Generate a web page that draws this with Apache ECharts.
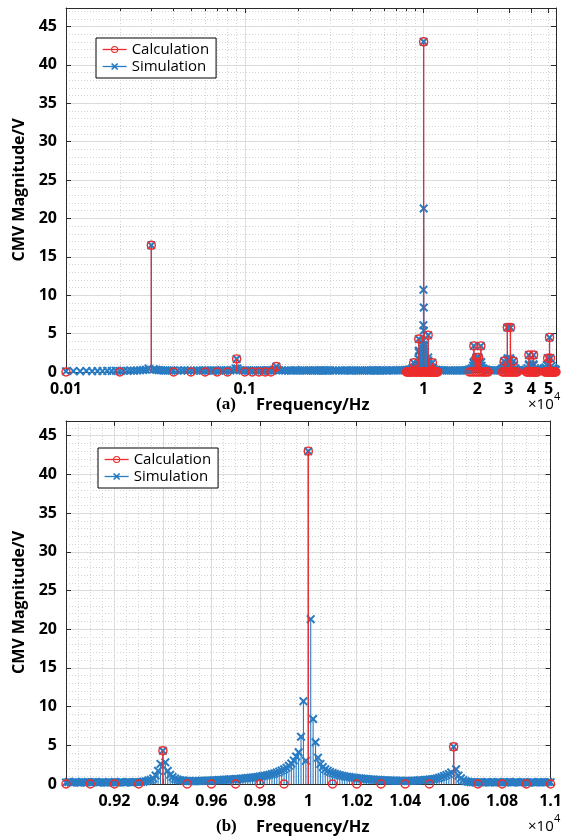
<!DOCTYPE html>
<html lang="en">
<head>
<meta charset="utf-8">
<title>CMV spectrum</title>
<script src="https://cdn.jsdelivr.net/npm/echarts@6/dist/echarts.min.js"></script>
<style>
  html, body { margin: 0; background: #fff; }
  #chart { width: 565px; height: 839px; }
</style>
</head>
<body>
<div id="chart"></div>
<script>
// frequencies are in units of 10^4 Hz, magnitudes in V

// calculation: 100 Hz grid at low frequency
const calcLowStart = 0.01;
const calcLow = [0, 0, 16.5, 0, 0, 0, 0, 0, 1.7, 0, 0, 0, 0, 0, 0.7];
// calculation: 100 Hz grid around the carrier (0.80 .. 1.20)
const calcBand1Start = 0.80;
const calcBand1 = [0, 0, 0, 0, 0, 0, 0, 0, 1.2, 0,
                   0, 0, 0, 0, 4.3, 0, 0, 0, 0, 0,
                   43.0, 0, 0, 0, 0, 0, 4.8, 0, 0, 0,
                   0, 0, 1.2, 0, 0, 0, 0, 0, 0, 0,
                   0];
// calculation: sidebands of the carrier multiples
const calcHigh = [
  [1.80, 0], [1.85, 0], [1.90, 0], [1.91, 3.4], [1.95, 0], [1.97, 1.9], [2.00, 0], [2.03, 1.9],
  [2.05, 0], [2.09, 3.4], [2.10, 0], [2.15, 0], [2.20, 0], [2.25, 0], [2.30, 0],
  [2.75, 0], [2.80, 0], [2.82, 1.4], [2.85, 0], [2.90, 0], [2.94, 5.8], [2.95, 0], [3.00, 0],
  [3.05, 0], [3.06, 5.8], [3.10, 0], [3.15, 0], [3.18, 1.4], [3.20, 0], [3.25, 0], [3.30, 0], [3.35, 0],
  [3.75, 0], [3.80, 0], [3.85, 0], [3.88, 2.2], [3.90, 0], [3.95, 0], [4.00, 0], [4.05, 0],
  [4.10, 0], [4.12, 2.2], [4.15, 0], [4.20, 0], [4.25, 0], [4.30, 0], [4.35, 0],
  [4.75, 0], [4.80, 0], [4.85, 0], [4.90, 0], [4.94, 1.8], [4.95, 0], [5.00, 0], [5.05, 0],
  [5.06, 4.5], [5.10, 0], [5.12, 1.8], [5.15, 0], [5.20, 0], [5.25, 0], [5.30, 0], [5.35, 0],
  [5.40, 0], [5.45, 0], [5.50, 0]
];

// simulation: 10 Hz bins from 0.010 to 0.030
const simLowStart = 0.010;
const simLow = [0.10, 0.12, 0.10, 0.14, 0.11, 0.13, 0.12, 0.15, 0.13, 0.16,
                0.14, 0.17, 0.15, 0.18, 0.17, 0.20, 0.22, 0.25, 0.30, 0.45,
                16.5];

// simulation: 10 Hz bins from 0.900 to 1.100 (zoomed in panel b)
const simBandStart = 0.900;
const simBand = [
  0.20, 0.25, 0.18, 0.22, 0.28, 0.20, 0.16, 0.24, 0.21, 0.27,
  0.19, 0.23, 0.26, 0.18, 0.22, 0.25, 0.20, 0.17, 0.24, 0.22,
  0.26, 0.19, 0.21, 0.25, 0.18, 0.23, 0.27, 0.20, 0.22, 0.25,
  0.21, 0.26, 0.30, 0.36, 0.45, 0.55, 0.72, 1.10, 1.70, 2.60,
  4.30, 2.80, 1.70, 1.20, 0.90, 0.70, 0.58, 0.50, 0.45, 0.42,
  0.40, 0.38, 0.36, 0.37, 0.38, 0.40, 0.41, 0.42, 0.43, 0.45,
  0.46, 0.48, 0.49, 0.51, 0.52, 0.54, 0.56, 0.58, 0.60, 0.62,
  0.64, 0.66, 0.69, 0.71, 0.74, 0.77, 0.80, 0.84, 0.88, 0.92,
  0.97, 1.02, 1.07, 1.13, 1.20, 1.28, 1.37, 1.47, 1.60, 1.74,
  1.90, 2.10, 2.35, 2.65, 3.05, 3.55, 4.10, 6.10, 10.70, 3.00,
  43.0, 21.3, 8.40, 5.40, 3.40, 2.60, 2.20, 1.90, 1.70, 1.55,
  1.42, 1.32, 1.22, 1.14, 1.07, 1.00, 0.95, 0.90, 0.85, 0.81,
  0.77, 0.73, 0.70, 0.67, 0.64, 0.61, 0.59, 0.57, 0.55, 0.53,
  0.51, 0.49, 0.48, 0.46, 0.45, 0.44, 0.43, 0.42, 0.41, 0.41,
  0.40, 0.40, 0.41, 0.42, 0.43, 0.45, 0.47, 0.49, 0.52, 0.55,
  0.58, 0.62, 0.66, 0.72, 0.80, 0.90, 1.02, 1.15, 1.30, 1.50,
  4.80, 1.90, 1.10, 0.75, 0.50, 0.36, 0.28, 0.24, 0.22, 0.20,
  0.21, 0.24, 0.19, 0.22, 0.26, 0.18, 0.23, 0.20, 0.25, 0.21,
  0.19, 0.24, 0.22, 0.27, 0.18, 0.21, 0.25, 0.20, 0.23, 0.26,
  0.20, 0.17, 0.24, 0.22, 0.19, 0.26, 0.21, 0.23, 0.18, 0.25,
  0.22
];
const binStep = 0.001; // 10 Hz

// simulation: rest of the wide spectrum
const simWide = [
  [0.031, 0.35], [0.032, 0.28], [0.033, 0.24], [0.034, 0.22], [0.035, 0.20], [0.036, 0.19],
  [0.037, 0.20], [0.038, 0.18], [0.039, 0.21], [0.040, 0.19],
  [0.042, 0.20], [0.044, 0.18], [0.046, 0.22], [0.048, 0.19], [0.050, 0.20], [0.052, 0.17],
  [0.054, 0.21], [0.056, 0.20], [0.058, 0.18], [0.060, 0.22], [0.062, 0.19], [0.064, 0.20],
  [0.066, 0.17], [0.068, 0.21], [0.070, 0.20], [0.072, 0.18], [0.074, 0.22], [0.076, 0.19],
  [0.078, 0.20], [0.080, 0.23],
  [0.083, 0.20], [0.086, 0.26], [0.089, 0.45], [0.090, 1.7], [0.091, 0.45], [0.094, 0.24],
  [0.097, 0.20], [0.100, 0.19], [0.103, 0.21], [0.106, 0.18], [0.109, 0.20], [0.112, 0.22],
  [0.115, 0.19], [0.118, 0.20], [0.121, 0.18], [0.124, 0.21], [0.127, 0.20], [0.130, 0.19],
  [0.133, 0.22], [0.136, 0.20], [0.139, 0.18], [0.142, 0.21], [0.145, 0.25], [0.148, 0.35],
  [0.150, 0.7], [0.152, 0.30],
  [0.156, 0.22], [0.162, 0.20], [0.168, 0.19], [0.174, 0.21], [0.180, 0.20], [0.186, 0.18],
  [0.192, 0.22], [0.198, 0.20], [0.204, 0.19], [0.210, 0.21], [0.216, 0.20], [0.222, 0.18],
  [0.228, 0.22], [0.234, 0.20], [0.240, 0.19], [0.246, 0.21], [0.252, 0.20], [0.258, 0.18],
  [0.264, 0.22], [0.270, 0.20], [0.276, 0.19], [0.282, 0.21], [0.288, 0.20], [0.294, 0.18],
  [0.300, 0.22],
  [0.312, 0.20], [0.324, 0.19], [0.336, 0.21], [0.348, 0.20], [0.360, 0.18], [0.372, 0.22],
  [0.384, 0.20], [0.396, 0.19], [0.408, 0.21], [0.420, 0.20], [0.432, 0.18], [0.444, 0.22],
  [0.456, 0.20], [0.468, 0.19], [0.480, 0.21], [0.492, 0.20], [0.504, 0.18], [0.516, 0.22],
  [0.528, 0.20], [0.540, 0.19], [0.552, 0.21], [0.564, 0.20], [0.576, 0.18], [0.588, 0.22],
  [0.600, 0.20],
  [0.62, 0.21], [0.64, 0.19], [0.66, 0.22], [0.68, 0.20], [0.70, 0.23], [0.72, 0.21],
  [0.74, 0.24], [0.76, 0.22], [0.78, 0.26], [0.80, 0.25], [0.82, 0.30], [0.84, 0.32],
  [0.86, 0.40], [0.87, 0.50], [0.88, 1.2], [0.89, 0.60],
  [1.11, 0.60], [1.12, 1.2], [1.13, 0.50], [1.14, 0.35], [1.18, 0.30], [1.22, 0.26],
  [1.26, 0.24], [1.30, 0.22], [1.34, 0.20], [1.38, 0.21], [1.42, 0.19], [1.46, 0.20],
  [1.50, 0.22], [1.54, 0.20], [1.58, 0.19], [1.62, 0.21], [1.66, 0.20], [1.70, 0.22],
  [1.74, 0.24], [1.78, 0.28], [1.82, 0.35], [1.86, 0.50],
  [1.89, 0.8], [1.90, 1.2], [1.91, 3.4], [1.92, 1.4], [1.93, 0.9], [1.95, 0.8], [1.96, 1.0],
  [1.97, 1.9], [1.98, 1.0], [2.00, 0.7], [2.02, 1.0], [2.03, 1.9], [2.04, 1.0], [2.06, 0.8],
  [2.08, 1.2], [2.09, 3.4], [2.10, 1.3], [2.11, 0.8], [2.15, 0.5], [2.20, 0.35], [2.25, 0.28],
  [2.30, 0.24], [2.35, 0.22], [2.40, 0.20], [2.45, 0.21], [2.50, 0.20],
  [2.60, 0.22], [2.70, 0.30], [2.75, 0.45], [2.80, 0.6], [2.81, 0.8], [2.82, 1.4], [2.83, 0.8],
  [2.87, 0.7], [2.92, 1.0], [2.93, 1.6], [2.94, 5.8], [2.95, 1.8], [2.96, 1.0], [3.00, 0.8],
  [3.04, 1.0], [3.05, 1.8], [3.06, 5.8], [3.07, 1.6], [3.08, 1.0], [3.13, 0.7], [3.17, 0.8],
  [3.18, 1.4], [3.19, 0.8], [3.25, 0.45], [3.30, 0.30], [3.40, 0.22], [3.50, 0.20], [3.60, 0.22],
  [3.70, 0.30], [3.80, 0.5], [3.87, 0.9], [3.88, 2.2], [3.89, 1.0], [3.95, 0.7], [4.00, 0.8],
  [4.05, 0.7], [4.11, 1.0], [4.12, 2.2], [4.13, 0.9], [4.20, 0.5], [4.30, 0.30], [4.40, 0.22],
  [4.50, 0.22], [4.60, 0.30], [4.70, 0.45], [4.80, 0.6], [4.88, 0.9], [4.94, 1.8], [5.00, 1.0],
  [5.06, 4.5], [5.12, 1.8], [5.20, 0.8], [5.30, 0.5], [5.40, 0.4], [5.50, 0.3]
];

const logMajor = [0.01, 0.1, 1];
const logLabels = [0.01, 0.1, 1, 2, 3, 4, 5];
const logMinor = [0.02, 0.03, 0.04, 0.05, 0.06, 0.07, 0.08, 0.09,
                  0.2, 0.3, 0.4, 0.5, 0.6, 0.7, 0.8, 0.9, 2, 3, 4, 5];

// ---- build series data ----
function fromGrid(start, step, values) {
  return values.map(function (v, i) { return [+(start + i * step).toFixed(4), v]; });
}
const calcB1 = fromGrid(calcBand1Start, 0.01, calcBand1);
const calcA = fromGrid(calcLowStart, 0.01, calcLow).concat(calcB1, calcHigh);
const calcB = calcB1.filter(function (d) { return d[0] >= 0.9 && d[0] <= 1.1; });
const simB = fromGrid(simBandStart, binStep, simBand);
const simA = fromGrid(simLowStart, binStep, simLow).concat(simWide, simB)
  .sort(function (a, b) { return a[0] - b[0]; });

const RED = '#ee2b2b';
const BLUE = '#2a7cc2';
const AXIS = '#2b2b2b';
const MAJOR = '#dedede';
const MINOR = '#d4d4d4';
const FONT = '"Open Sans", "DejaVu Sans", sans-serif';
const CROSS = 'path://M0,1.6 L1.6,0 L5,3.4 L8.4,0 L10,1.6 L6.6,5 L10,8.4 L8.4,10 L5,6.6 L1.6,10 L0,8.4 L3.4,5 Z';
// open ring (hollow, so crosses behind stay visible)
const RING = 'path://M5,0 A5,5 0 1,1 5,10 A5,5 0 1,1 5,0 Z M5,1.5 A3.5,3.5 0 1,0 5,8.5 A3.5,3.5 0 1,0 5,1.5 Z';

const tickLabel = { color: '#000', fontFamily: FONT, fontWeight: 'bold', fontSize: 16 };

function stems(xi, data, color, width, z) {
  return {
    type: 'custom', xAxisIndex: xi, yAxisIndex: xi, data: data, z: z, silent: true, clip: false,
    encode: { x: 0, y: 1 },
    renderItem: function (params, api) {
      const top = api.coord([api.value(0), api.value(1)]);
      const base = api.coord([api.value(0), 0]);
      return { type: 'line', shape: { x1: base[0], y1: base[1], x2: top[0], y2: top[1] },
               style: { stroke: color, lineWidth: width } };
    }
  };
}
function markers(name, xi, data, symbol, size, color, z) {
  return {
    type: 'line', name: name, xAxisIndex: xi, yAxisIndex: xi, data: data, z: z,
    symbol: symbol, symbolSize: size, showSymbol: true, showAllSymbol: true, clip: false, silent: true,
    lineStyle: { width: 0, opacity: 0 },
    itemStyle: { color: color }
  };
}

function yAxes(gi, ymax) {
  return [
    { gridIndex: gi, type: 'value', min: 0, max: ymax, interval: 5,
      name: 'CMV Magnitude/V', nameLocation: 'middle', nameGap: 37,
      nameTextStyle: { color: '#000', fontFamily: FONT, fontWeight: 'bold', fontSize: 16 },
      axisLine: { show: true, onZero: false, lineStyle: { color: AXIS } },
      axisTick: { inside: true, length: 5, lineStyle: { color: AXIS } },
      axisLabel: Object.assign({ margin: 9, showMaxLabel: false }, tickLabel),
      splitLine: { show: true, lineStyle: { color: MAJOR } } },
    { gridIndex: gi, type: 'value', min: 0, max: ymax, interval: 1,
      axisLine: { show: false }, axisTick: { show: false }, axisLabel: { show: false },
      splitLine: { show: true, lineStyle: { color: MINOR, type: [1, 2] } } },
    { gridIndex: gi, type: 'value', min: 0, max: ymax, interval: 5, position: 'right',
      axisLine: { show: true, onZero: false, lineStyle: { color: AXIS } },
      axisTick: { inside: true, length: 5, lineStyle: { color: AXIS } },
      axisLabel: { show: false }, splitLine: { show: false } }
  ];
}

const legendItems = [
  { name: 'Calculation', lineStyle: { color: RED, width: 1.3, opacity: 1 } },
  { name: 'Simulation', lineStyle: { color: BLUE, width: 1.3, opacity: 1 } }
];
function legend(left, top) {
  return {
    orient: 'vertical', left: left, top: top, data: legendItems,
    backgroundColor: '#fff', borderColor: '#000', borderWidth: 1, borderRadius: 0,
    padding: [4, 7, 4, 6], itemGap: 2, itemWidth: 24, itemHeight: 9, selectedMode: false,
    lineStyle: { opacity: 1 },
    textStyle: { color: '#000', fontFamily: FONT, fontSize: 15 }
  };
}

function axisTitle(y, tag) {
  return [
    { type: 'text', x: 216, y: y, style: { text: tag, fill: '#000', verticalAlign: 'middle',
      font: 'bold 17px "Liberation Serif", serif' } },
    { type: 'text', x: 256, y: y, style: { text: 'Frequency/Hz', fill: '#000', verticalAlign: 'middle',
      font: 'bold 16.5px ' + FONT } },
    { type: 'text', x: 528, y: y, style: { text: '\u00d710', fill: '#000', verticalAlign: 'middle',
      font: '15px ' + FONT } },
    { type: 'text', x: 554, y: y - 8, style: { text: '4', fill: '#000', verticalAlign: 'middle',
      font: '11px ' + FONT } }
  ];
}

const chart = echarts.init(document.getElementById('chart'), null, { renderer: 'canvas' });
chart.setOption({
  animation: false,
  backgroundColor: '#fff',
  grid: [
    { left: 66, top: 8, width: 490, height: 364 },
    { left: 66, top: 421, width: 488, height: 363 }
  ],
  xAxis: [
    { gridIndex: 0, type: 'log', logBase: 10, min: 0.01, max: 5.5,
      axisLine: { show: true, onZero: false, lineStyle: { color: AXIS } },
      axisTick: { inside: true, length: 5, customValues: logMajor, lineStyle: { color: AXIS } },
      axisLabel: Object.assign({ margin: 9, customValues: logLabels }, tickLabel),
      splitLine: { show: true, lineStyle: { color: MAJOR } } },
    { gridIndex: 0, type: 'log', logBase: 10, min: 0.01, max: 5.5,
      axisLine: { show: false, onZero: false },
      axisTick: { inside: true, length: 3, customValues: logMinor, lineStyle: { color: AXIS } },
      axisLabel: { show: false },
      splitLine: { show: true, lineStyle: { color: MINOR, type: [1, 2] } } },
    { gridIndex: 0, type: 'log', logBase: 10, min: 0.01, max: 5.5, position: 'top',
      axisLine: { show: true, onZero: false, lineStyle: { color: AXIS } },
      axisTick: { inside: true, length: 5, customValues: logLabels, lineStyle: { color: AXIS } },
      axisLabel: { show: false }, splitLine: { show: false } },

    { gridIndex: 1, type: 'value', min: 0.9, max: 1.1, interval: 0.02,
      axisLine: { show: true, onZero: false, lineStyle: { color: AXIS } },
      axisTick: { inside: true, length: 5, lineStyle: { color: AXIS } },
      axisLabel: Object.assign({ margin: 9, showMinLabel: false }, tickLabel),
      splitLine: { show: true, lineStyle: { color: MAJOR } } },
    { gridIndex: 1, type: 'value', min: 0.9, max: 1.1, interval: 0.005,
      axisLine: { show: false, onZero: false }, axisTick: { show: false }, axisLabel: { show: false },
      splitLine: { show: true, lineStyle: { color: MINOR, type: [1, 2] } } },
    { gridIndex: 1, type: 'value', min: 0.9, max: 1.1, interval: 0.02, position: 'top',
      axisLine: { show: true, onZero: false, lineStyle: { color: AXIS } },
      axisTick: { inside: true, length: 5, lineStyle: { color: AXIS } },
      axisLabel: { show: false }, splitLine: { show: false } }
  ],
  yAxis: yAxes(0, 47.4).concat(yAxes(1, 46.9)),
  legend: [legend(96, 38), legend(98, 448)],
  graphic: axisTitle(405, '(a)').concat(axisTitle(827, '(b)')),
  series: [
    stems(0, simA, BLUE, 1.1, 2),
    markers('Simulation', 0, simA, CROSS, 9, BLUE, 3),
    stems(0, calcA, RED, 1.3, 4),
    markers('Calculation', 0, calcA, RING, 9.5, RED, 5),

    stems(3, simB, BLUE, 1.1, 2),
    markers('Simulation', 3, simB, CROSS, 9, BLUE, 3),
    stems(3, calcB, RED, 1.3, 4),
    markers('Calculation', 3, calcB, RING, 9.5, RED, 5)
  ]
});
</script>
</body>
</html>
